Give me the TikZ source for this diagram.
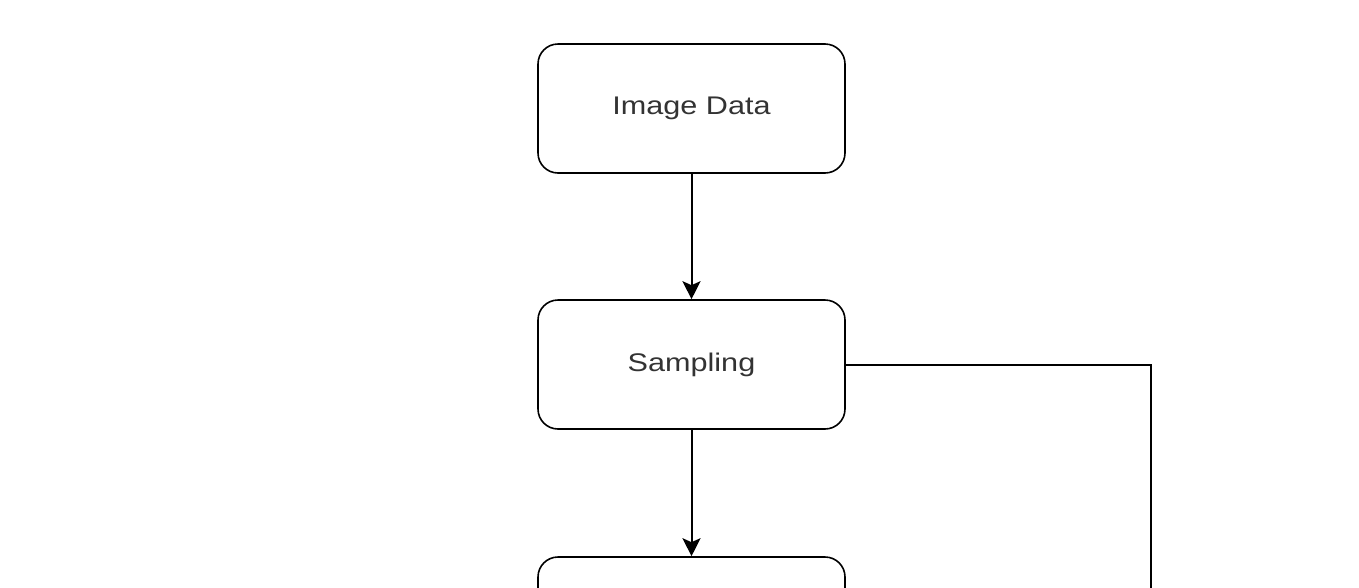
\documentclass[tikz,border=0pt]{standalone}
\usepackage{fontspec}
\setmainfont{Liberation Sans}[FakeStretch=1.2]
\usetikzlibrary{arrows.meta}
\definecolor{txt}{HTML}{333333}
\tikzset{
  box/.style={draw=black, line width=1.6pt, rounded corners=20pt, minimum width=307pt, minimum height=129pt, inner sep=0pt, font=\fontsize{25.5}{30}\selectfont, text=txt},
  conn/.style={draw=black, line width=2pt},
  arr/.style={conn, -{Stealth[width=18pt,length=18pt,inset=4pt]}}
}
\begin{document}
\begin{tikzpicture}[x=1pt,y=-1pt]
\useasboundingbox (0,0) rectangle (1359,587);
\clip (0,0) rectangle (1359,587);
\fill[white] (0,0) rectangle (1359,587);
\node[box] (img) at (691.5,108.5) {\raisebox{-2pt}{Image Data}};
\node[box] (samp) at (691.5,364.5) {\raisebox{-2pt}{Sampling}};
\node[box] (third) at (691.5,621.5) {};
\coordinate (down) at (1151,640);
\draw[arr] (img.south) -- (samp.north);
\draw[arr] (samp.south) -- (third.north);
\draw[conn] (samp.east) -| (down);
\end{tikzpicture}
\end{document}
